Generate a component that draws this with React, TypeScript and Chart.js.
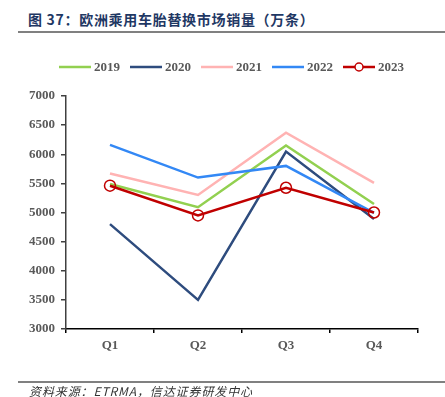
import React, { useEffect, useRef } from "react";
import { Chart, registerables } from "chart.js";

Chart.register(...registerables);

const categories = ["Q1", "Q2", "Q3", "Q4"];
const seriesNames = ["2019", "2020", "2021", "2022", "2023"];
const v2019 = [5490, 5090, 6150, 5145];
const v2020 = [4800, 3500, 6045, 4890];
const v2021 = [5670, 5300, 6370, 5510];
const v2022 = [6160, 5600, 5800, 4995];
const v2023 = [5460, 4950, 5425, 5000];
const yTicks = [3000, 3500, 4000, 4500, 5000, 5500, 6000, 6500, 7000];

const colors = ["#92D050", "#2E4C7E", "#FFB3B3", "#3388F5", "#C00000"];
const LABEL_FONT = { family: "'Liberation Serif', 'Times New Roman', serif", size: 13, weight: "bold" as const };

const legendPlugin = {
  id: "customLegend",
  afterDraw(chart: any) {
    const ctx = chart.ctx;
    const startX = 59;
    const step = 71;
    const y = 67;
    ctx.save();
    chart.data.datasets.forEach((ds: any, i: number) => {
      const x = startX + i * step;
      ctx.strokeStyle = ds.borderColor;
      ctx.lineWidth = 2.5;
      ctx.beginPath();
      ctx.moveTo(x, y);
      ctx.lineTo(x + 32, y);
      ctx.stroke();
      if (ds.pointRadius > 0) {
        ctx.beginPath();
        ctx.lineWidth = 1.5;
        ctx.fillStyle = "#ffffff";
        ctx.arc(x + 16, y, 4, 0, Math.PI * 2);
        ctx.fill();
        ctx.stroke();
      }
      ctx.fillStyle = "#595959";
      ctx.font = `bold 13px ${LABEL_FONT.family}`;
      ctx.textBaseline = "middle";
      ctx.textAlign = "left";
      ctx.fillText(ds.label, x + 35, y + 1);
    });
    ctx.restore();
  },
};

export default function App() {
  const ref = useRef<HTMLCanvasElement | null>(null);
  useEffect(() => {
    if (!ref.current) return;
    const values = [v2019, v2020, v2021, v2022, v2023];
    const orders = [4, 3, 2, 1, 0];
    const chart = new Chart(ref.current, {
      type: "line",
      data: {
        labels: categories,
        datasets: seriesNames.map((name, i) => ({
          label: name,
          data: values[i],
          borderColor: colors[i],
          backgroundColor: i === 4 ? "#ffffff" : colors[i],
          borderWidth: 2.5,
          pointRadius: i === 4 ? 5.5 : 0,
          pointBorderWidth: 1.5,
          pointBorderColor: colors[i],
          pointBackgroundColor: "rgba(255,255,255,0)",
          tension: 0,
          order: orders[i],
        })),
      },
      options: {
        animation: false,
        responsive: false,
        maintainAspectRatio: false,
        events: [],
        layout: { padding: { left: 0, right: 27, top: 96, bottom: 38 } },
        plugins: { legend: { display: false }, tooltip: { enabled: false }, title: { display: false } },
        scales: {
          x: {
            type: "category",
            offset: true,
            grid: { display: true, offset: true, drawOnChartArea: false, drawTicks: true, tickLength: 4, color: "#000000", lineWidth: 1.5 },
            border: { display: true, color: "#000000", width: 1.5 },
            ticks: { color: "#595959", font: LABEL_FONT, padding: 5 },
            afterFit: (scale: any) => { scale.height = 30; },
          },
          y: {
            min: 3000,
            max: 7000,
            afterBuildTicks: (scale: any) => { scale.ticks = yTicks.map((v) => ({ value: v })); },
            grid: { display: true, drawOnChartArea: false, drawTicks: true, tickLength: 5, color: "#404040", lineWidth: 1.5 },
            border: { display: true, color: "#404040", width: 1.5 },
            ticks: { color: "#595959", font: LABEL_FONT, padding: 6, callback: (v: any) => String(v) },
            afterFit: (scale: any) => { scale.width = 66; },
          },
        },
      },
      plugins: [legendPlugin],
    });
    return () => chart.destroy();
  }, []);

  return (
    <div style={{ position: "fixed", left: 0, top: 0, width: 445, height: 397, background: "#fff", overflow: "hidden" }}>
      <div style={{ position: "absolute", left: 28, top: 9, fontFamily: "'Noto Sans CJK SC', sans-serif", fontWeight: 700, fontSize: 14, letterSpacing: 0.7, color: "#1F3864", whiteSpace: "nowrap", lineHeight: "20px" }}>
        图 37：欧洲乘用车胎替换市场销量（万条）
      </div>
      <div style={{ position: "absolute", left: 18, top: 31, width: 427, height: 2, background: "#808080" }} />
      <canvas ref={ref} width={445} height={397} style={{ position: "absolute", left: 0, top: 0, width: 445, height: 397 }} />
      <div style={{ position: "absolute", left: 18, top: 381, width: 427, height: 1.5, background: "#808080" }} />
      <div style={{ position: "absolute", left: 29, top: 383, fontFamily: "'Noto Sans CJK SC', sans-serif", fontStyle: "italic", fontSize: 12, letterSpacing: 0.9, color: "#333", whiteSpace: "nowrap", lineHeight: "16px" }}>
        资料来源：ETRMA，信达证券研发中心
      </div>
    </div>
  );
}
